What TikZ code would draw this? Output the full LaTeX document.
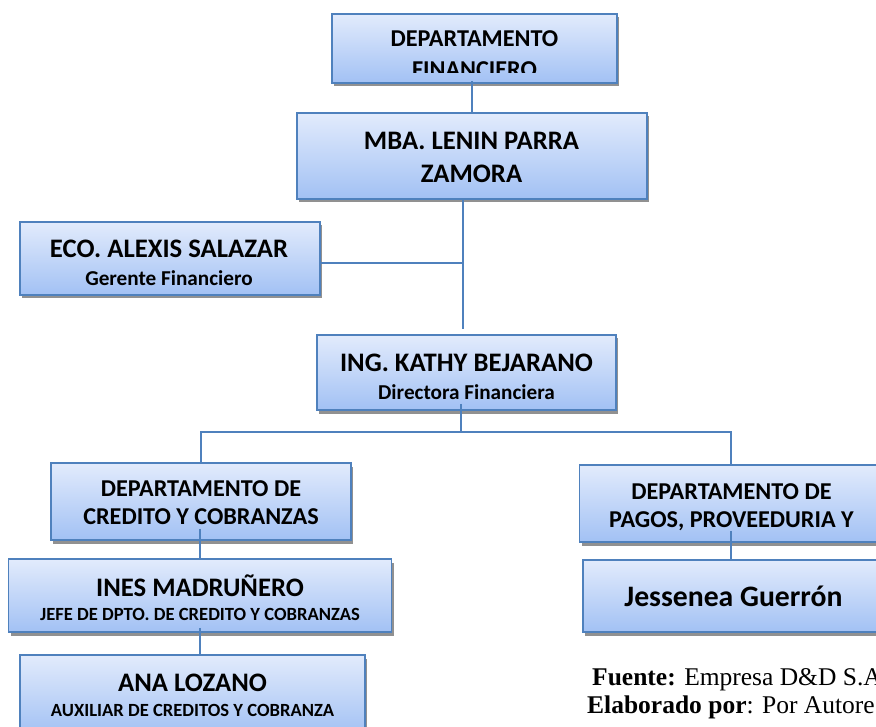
\documentclass[tikz,border=0pt]{standalone}
\usepackage{fontspec}
\setmainfont{Carlito}
\newfontfamily\timesf{Liberation Serif}
\usetikzlibrary{shadows,calc}
\definecolor{boxtop}{RGB}{226,235,252}
\definecolor{boxbot}{RGB}{162,193,244}
\definecolor{boxline}{RGB}{79,129,189}
\definecolor{shadowc}{RGB}{145,145,145}
\tikzset{
  orgbox/.style={rectangle, draw=boxline, line width=1.8pt, top color=boxtop, bottom color=boxbot,
    inner sep=0pt, drop shadow={fill=shadowc, opacity=1, shadow xshift=2pt, shadow yshift=-3.5pt}},
  txtline/.style={anchor=base, inner sep=0pt},
  depttxt/.style={txtline, font=\bfseries\fontsize{24.2}{28}\selectfont},
  persontxt/.style={txtline, font=\bfseries\fontsize{26.7}{30}\selectfont},
  roletxt/.style={txtline, font=\bfseries\fontsize{21.2}{24}\selectfont},
  smalltxt/.style={txtline, font=\bfseries\fontsize{18.6}{22}\selectfont},
  link/.style={draw=boxline, line width=1.8pt},
  srctxt/.style={anchor=base west, inner sep=0pt, font=\timesf\fontsize{25.5}{28}\selectfont},
}
\begin{document}
\begin{tikzpicture}[x=1pt,y=-1pt]
\useasboundingbox (0,0) rectangle (876,727);
\clip (0,0) rectangle (876,727);
% boxes
\node[orgbox, minimum width=285pt, minimum height=69pt] (top) at (474.5,48.5) {};
\node[orgbox, minimum width=350pt, minimum height=86pt] (mba) at (472,156) {};
\node[orgbox, minimum width=300pt, minimum height=73pt] (eco) at (170,258.5) {};
\node[orgbox, minimum width=299pt, minimum height=75pt] (kathy) at (466.5,372.5) {};
\node[orgbox, minimum width=300pt, minimum height=77pt] (cred) at (201,501.5) {};
\node[orgbox, minimum width=303pt, minimum height=77pt] (pagos) at (731,503.5) {};
\node[orgbox, minimum width=383pt, minimum height=73pt] (ines) at (200,595.5) {};
\node[orgbox, minimum width=301pt, minimum height=72pt] (jess) at (733.5,596) {};
\node[orgbox, minimum width=345pt, minimum height=80pt] (ana) at (192.5,695) {};
% texts
\node[depttxt] (t1a) at (474.5,47) {DEPARTAMENTO};
\begin{scope}
  \clip (300,20) rectangle (650,73);
  \node[depttxt] (t1b) at (474.5,78) {FINANCIERO};
\end{scope}
\node[persontxt] (t2a) at (471.5,150) {MBA. LENIN PARRA};
\node[persontxt] (t2b) at (471.5,183) {ZAMORA};
\node[persontxt] (t3a) at (169,257.5) {ECO. ALEXIS SALAZAR};
\node[roletxt] (t3b) at (169,286) {Gerente Financiero};
\node[persontxt] (t4a) at (466.5,371.5) {ING. KATHY BEJARANO};
\node[roletxt] (t4b) at (466.5,399.5) {Directora Financiera};
\node[depttxt] (t5a) at (201,496) {DEPARTAMENTO DE};
\node[depttxt] (t5b) at (201,524.5) {CREDITO Y COBRANZAS};
\node[depttxt] (t6a) at (731.5,499.3) {DEPARTAMENTO DE};
\node[depttxt] (t6b) at (731.5,527.7) {PAGOS, PROVEEDURIA Y};
\node[persontxt] (t7a) at (200,596.5) {INES MADRUÑERO};
\node[smalltxt] (t7b) at (200,620.7) {JEFE DE DPTO. DE CREDITO Y COBRANZAS};
\node[txtline, font=\bfseries\fontsize{29.7}{34}\selectfont] (t8) at (733.5,606.7) {Jessenea Guerrón};
\node[persontxt] (t9a) at (192.5,691.7) {ANA LOZANO};
\node[smalltxt] (t9b) at (192.5,716) {AUXILIAR DE CREDITOS Y COBRANZA};
\node[srctxt] (f1) at (592,685) {\textbf{Fuente:} Empresa D\&D S.A};
\node[srctxt] (f2) at (587,713) {\textbf{Elaborado por}: Por Autore};
% connectors
\coordinate (j1) at (463,263);
\coordinate (bar) at (461,432);
\draw[link] ($(mba.north |- top.south)+(0,-3)$) -- (mba.north);
\draw[link] (mba.south -| j1) -- ($(kathy.north -| j1)+(0,-5)$);
\draw[link] (eco.east |- j1) -- (j1);
\draw[link] ($(kathy.south -| bar)+(0,-7)$) -- (bar);
\draw[link] (cred.north) |- (bar) -| (pagos.north);
\draw[link] ($(cred.south -| ines.north)+(0,-12)$) -- (ines.north);
\draw[link] ($(ines.south)+(0,-5)$) -- (ines.south |- ana.north);
\draw[link] ($(pagos.south -| pagos.north)+(0,-12)$) -- (pagos.south |- jess.north);
\end{tikzpicture}
\end{document}
